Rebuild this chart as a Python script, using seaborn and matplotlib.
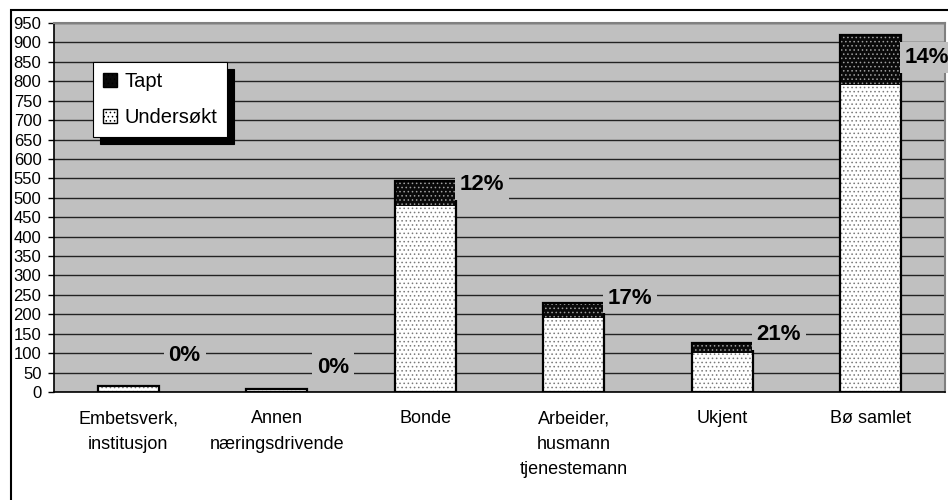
import matplotlib
matplotlib.use("Agg")
import matplotlib.pyplot as plt
import matplotlib.patches as mpatches
import numpy as np
import pandas as pd
import seaborn as sns

categories = [
    "Embetsverk,\ninstitusjon",
    "Annen\nnæringsdrivende",
    "Bonde",
    "Arbeider,\nhusmann\ntjenestemann",
    "Ukjent",
    "Bø samlet",
]
undersokt = [15, 8, 478, 190, 100, 791]
tapt = [0, 0, 65, 38, 26, 129]
pct_labels = ["0%", "0%", "12%", "17%", "21%", "14%"]
# height (in data units) where each percentage label sits
label_y = [95, 64, 533, 242, 147, 862]

df = pd.DataFrame({
    "kategori": categories,
    "undersokt": undersokt,
    "tapt": tapt,
})
df["total"] = df["undersokt"] + df["tapt"]

sns.set_style("white")
plt.rcParams["font.family"] = ["Liberation Sans", "DejaVu Sans"]
plt.rcParams["hatch.linewidth"] = 0.6
plt.rcParams["text.color"] = "black"
plt.rcParams["xtick.color"] = "black"
plt.rcParams["ytick.color"] = "black"

fig = plt.figure(figsize=(9.48, 5), dpi=100)
ax = fig.add_axes([54 / 948, 108 / 500, 891 / 948, 369 / 500])
ax.set_facecolor("#C0C0C0")

bar_w = 0.41

# total bar (Tapt on top) first, then Undersøkt drawn over it
sns.barplot(data=df, x="kategori", y="total", color="black", saturation=1,
            width=bar_w, linewidth=0, ax=ax, zorder=3)
n = len(categories)
for p in ax.patches[:n]:
    p.set_facecolor("#0a0a0a")
    p.set_edgecolor("#a0a0a0")
    p.set_hatch("....")
    p.set_linewidth(0)

sns.barplot(data=df, x="kategori", y="undersokt", color="white", saturation=1,
            width=bar_w, edgecolor="#7a7a7a", linewidth=0, hatch="....",
            ax=ax, zorder=4)

# black outlines around the full stacks
for p in list(ax.patches[:n]):
    ax.add_patch(mpatches.Rectangle(p.get_xy(), p.get_width(), p.get_height(),
                                    fill=False, edgecolor="black", linewidth=1.6,
                                    zorder=5))

ax.set_ylim(0, 950)
ax.set_xlim(-0.5, n - 0.5)
ax.set_yticks(np.arange(0, 951, 50))
ax.yaxis.grid(True, color="#222222", linewidth=1)
ax.set_axisbelow(True)

ax.set_xticks(np.arange(-0.5, n, 1.0), minor=True)
ax.tick_params(axis="x", which="major", length=0, pad=13, labelsize=13)
ax.tick_params(axis="x", which="minor", length=5, width=1, color="black",
               direction="out")
ax.tick_params(axis="y", length=4, width=1, color="black", direction="out",
               pad=5, labelsize=12, left=True)
for t in ax.get_xticklabels():
    t.set_linespacing(1.65)
    t.set_verticalalignment("top")

ax.set_xlabel("")
ax.set_ylabel("")

for side in ["left", "bottom"]:
    ax.spines[side].set_color("black")
    ax.spines[side].set_linewidth(1.2)
for side in ["top", "right"]:
    ax.spines[side].set_color("#808080")
    ax.spines[side].set_linewidth(1.5)

for i, (lab, yy) in enumerate(zip(pct_labels, label_y)):
    ax.text(i + 0.38, yy, lab, ha="center", va="center", fontsize=16,
            fontweight="bold", zorder=6, clip_on=False,
            bbox=dict(boxstyle="square,pad=0.22", facecolor="#C0C0C0",
                      edgecolor="none"))

handles = [
    mpatches.Patch(facecolor="#0a0a0a", edgecolor="black", hatch="....",
                   label="Tapt"),
    mpatches.Patch(facecolor="white", edgecolor="black", hatch="....",
                   label="Undersøkt"),
]
leg = ax.legend(handles=handles, loc="upper left",
                bbox_to_anchor=(0.044, 0.894), borderaxespad=0,
                fontsize=14.5, frameon=True, fancybox=False,
                shadow={"color": "black", "alpha": 1, "ox": 4.8, "oy": -4.8},
                handlelength=0.7, handleheight=0.7, handletextpad=0.35,
                labelspacing=0.85, borderpad=0.5)
leg.get_frame().set_edgecolor("black")
leg.get_frame().set_linewidth(0.8)
leg.get_frame().set_facecolor("white")
leg.set_zorder(7)

# outer chart frame
fig.patches.append(mpatches.Rectangle((11 / 948, -0.1), 1.1, 0.1 + 490 / 500,
                                      transform=fig.transFigure, fill=False,
                                      edgecolor="black", linewidth=1.5))

fig.savefig("out.png", dpi=100)
